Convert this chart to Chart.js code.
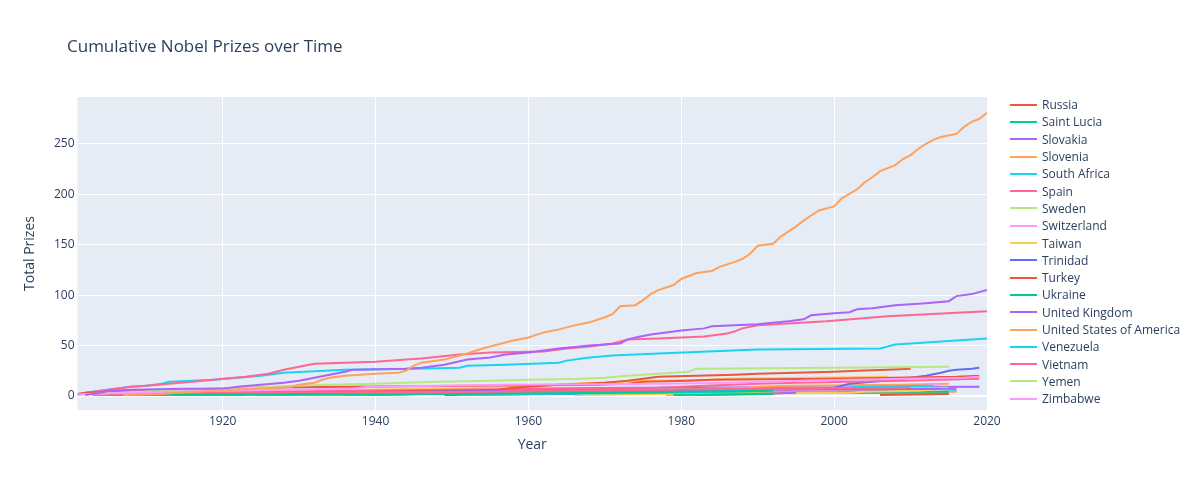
<!DOCTYPE html>
<html>
<head>
<meta charset="utf-8">
<script src="https://cdn.jsdelivr.net/npm/chart.js@4.4.1/dist/chart.umd.min.js"></script>
<style>
  html, body { margin: 0; padding: 0; background: #fff; }
  #wrap { position: relative; width: 1200px; height: 496px; font-family: "Open Sans", sans-serif; color: #2a3f5f; }
  #title { position: absolute; left: 67px; top: 35px; font-size: 17px; line-height: 22px; white-space: nowrap; }
  #legend { position: absolute; left: 1010px; top: 96px; font-size: 12px; }
  .item { height: 17.3px; display: flex; align-items: center; white-space: nowrap; }
  .swatch { width: 27px; height: 2px; margin-right: 5px; }
  canvas { position: absolute; left: 0; top: 0; }
</style>
</head>
<body>
<div id="wrap">
  <canvas id="chart" width="1200" height="496"></canvas>
  <div id="title">Cumulative Nobel Prizes over Time</div>
  <div id="legend"></div>
</div>
<script>
// cumulative totals per country, [year, total]
var usa = [[1907,1],[1912,2],[1914,3],[1919,5],[1921,6],[1927,8],[1929,9],[1930,11],[1932,13],[1933,16],[1934,18],[1936,20],[1938,21],[1940,22],[1943,23],[1944,25],[1945,30],[1946,33],[1949,36],[1950,38],[1952,42],[1954,47],[1956,51],[1958,55],[1960,58],[1962,63],[1964,66],[1966,70],[1968,73],[1970,78],[1971,81],[1972,89],[1974,90],[1975,95],[1976,101],[1977,105],[1979,110],[1980,116],[1981,119],[1982,122],[1984,124],[1985,128],[1987,133],[1988,136],[1989,141],[1990,149],[1992,151],[1993,158],[1994,163],[1995,168],[1996,174],[1997,179],[1998,184],[2000,188],[2001,196],[2003,205],[2004,212],[2005,217],[2006,223],[2008,229],[2009,235],[2010,239],[2011,245],[2012,250],[2013,254],[2014,257],[2016,260],[2017,267],[2018,272],[2019,275],[2020,281]];
var uk = [[1902,1],[1904,3],[1905,5],[1908,6],[1915,7],[1920,7],[1922,9],[1925,11],[1928,13],[1930,15],[1932,18],[1934,21],[1936,24],[1937,26],[1944,27],[1946,28],[1949,31],[1952,36],[1955,38],[1957,41],[1960,43],[1962,45],[1964,47],[1968,50],[1972,52],[1973,56],[1974,58],[1976,61],[1977,62],[1980,65],[1983,67],[1984,69],[1987,70],[1990,71],[1994,74],[1996,76],[1997,80],[2000,82],[2002,83],[2003,86],[2005,87],[2008,90],[2012,92],[2015,94],[2016,99],[2018,101],[2020,105]];
var germany = [[1901,2],[1905,6],[1908,9],[1910,10],[1916,14],[1920,17],[1923,19],[1926,22],[1928,26],[1930,29],[1932,32],[1936,33],[1940,34],[1944,36],[1946,37],[1951,41],[1955,43],[1962,44],[1965,47],[1968,49],[1971,52],[1973,56],[1977,57],[1983,59],[1986,62],[1987,64],[1988,67],[1990,70],[1999,74],[2007,79],[2020,84]];
var france = [[1901,2],[1903,4],[1906,7],[1908,9],[1910,10],[1912,12],[1913,14],[1919,16],[1925,20],[1928,23],[1936,26],[1945,27],[1951,28],[1952,30],[1957,31],[1964,33],[1965,35],[1968,38],[1971,40],[1977,42],[1990,46],[2006,47],[2008,51],[2020,57]];
var japan = [[1949,1],[1965,2],[1968,3],[1973,4],[1981,5],[1987,6],[1994,7],[2000,8],[2001,10],[2002,12],[2008,16],[2010,18],[2012,20],[2014,23],[2015,25],[2016,26],[2018,27],[2019,28]];
var netherlands = [[1901,1],[1902,3],[1910,5],[1913,6],[1924,8],[1936,9],[1953,10],[1969,11],[1973,12],[1975,14],[1981,15],[1984,16],[1999,17],[2016,19],[2019,20]];
var italy = [[1906,2],[1907,3],[1909,4],[1926,5],[1938,6],[1957,8],[1959,10],[1963,11],[1969,13],[1975,15],[1984,16],[1986,17],[1997,18],[2007,19]];
var poland = [[1903,1],[1905,2],[1911,3],[1924,4],[1950,6],[1963,7],[1977,8],[1980,9],[1983,10],[1990,12],[1995,13],[2009,15],[2019,17]];
var canada = [[1923,1],[1949,2],[1957,3],[1966,4],[1971,5],[1981,6],[1983,7],[1989,8],[1990,9],[1994,10],[2009,11],[2015,12]];
var india = [[1907,1],[1913,2],[1930,3],[1968,4],[1979,5],[1983,6],[1998,7],[2001,8],[2009,9],[2014,11]];
var austria = [[1905,1],[1914,2],[1927,3],[1936,5],[1945,6],[1961,7],[1973,8],[2019,9]];
var denmark = [[1903,1],[1908,2],[1920,3],[1926,4],[1943,5],[1975,6],[1997,7],[2015,8]];
var norway = [[1903,1],[1920,2],[1922,3],[1968,4],[1973,5],[1989,6],[2014,7]];
var hungary = [[1905,1],[1914,2],[1937,3],[1961,4],[1971,5],[1986,6],[1994,7],[2002,8],[2004,9]];
var china = [[1957,2],[1998,3],[2000,4],[2009,5],[2010,6],[2012,7],[2015,8]];
var australia = [[1915,1],[1945,2],[1960,3],[1963,4],[1970,5],[1975,6],[1996,7],[2005,8],[2011,9]];
var belgium = [[1909,1],[1911,2],[1913,3],[1919,4],[1958,4],[1974,5],[1977,6],[2013,7]];
var scotland = [[1904,1],[1922,2],[1925,3],[1945,4],[1957,5],[1988,6],[2016,7]];
var israel = [[1966,1],[1978,2],[2002,3],[2004,4],[2011,5],[2013,6]];
var egypt = [[1978,1],[1988,2],[1994,3],[1999,4],[2016,4]];
var czech = [[1914,1],[1947,2],[1984,3],[2014,4],[2016,5]];
var argentina = [[1936,1],[1947,2],[1970,3],[1980,4],[1984,5]];
var ireland = [[1923,1],[1925,2],[1951,3],[1969,4],[1974,5],[1976,6],[1995,7],[1998,8],[2015,8]];
var belarus = [[1921,1],[1945,2],[1978,3],[2015,3]];
var mexico = [[1982,1],[1990,2],[1995,3]];
var finland = [[1939,1],[1945,2],[2000,3],[2008,4],[2015,4]];
var russia = [[1904,1],[1908,2],[1933,3],[1956,6],[1958,8],[1962,10],[1964,11],[1970,13],[1973,15],[1975,17],[1977,19],[1987,21],[1990,22],[2000,24],[2003,25],[2007,26],[2010,27]];
var saintLucia = [[1979,1],[1992,2]];
var slovakia = [[1905,1]];
var slovenia = [[1923,1]];
var southAfrica = [[1951,1],[1960,2],[1979,3],[1984,4],[1991,5],[1993,7],[2002,8],[2003,9],[2013,10]];
var spain = [[1904,1],[1906,2],[1922,3],[1956,4],[1959,5],[1977,6],[1989,7],[2010,8]];
var sweden = [[1901,1],[1903,2],[1909,4],[1911,5],[1915,6],[1920,7],[1924,8],[1929,10],[1934,11],[1940,12],[1948,14],[1955,15],[1960,16],[1967,17],[1970,18],[1973,20],[1977,22],[1981,24],[1982,27],[2000,28],[2015,29]];
var switzerland = [[1901,1],[1902,2],[1909,3],[1913,4],[1920,5],[1937,7],[1939,9],[1948,10],[1957,11],[1978,12],[1986,13],[1991,14],[1996,15],[2002,16],[2017,18],[2019,19]];
var taiwan = [[1986,1]];
var trinidad = [[2001,1]];
var turkey = [[2006,1],[2015,2]];
var ukraine = [[1908,1],[1952,2],[1971,3],[1981,4],[1992,5]];
var venezuela = [[1980,1]];
var vietnam = [[1973,1]];
var yemen = [[2011,1]];
var zimbabwe = [[1960,1]];

var countries = ['Argentina','Australia','Austria','Belarus','Belgium','Canada','China','Czech Republic','Denmark','Egypt','Finland','France','Germany','Hungary','India','Ireland','Israel','Italy','Japan','Mexico','Netherlands','Norway','Poland','Russia','Saint Lucia','Scotland','Slovakia','Slovenia','South Africa','Spain','Sweden','Switzerland','Taiwan','Trinidad','Turkey','Ukraine','United Kingdom','United States of America','Venezuela','Vietnam','Yemen','Zimbabwe'];
var totals = [argentina, australia, austria, belarus, belgium, canada, china, czech, denmark, egypt, finland, france, germany, hungary, india, ireland, israel, italy, japan, mexico, netherlands, norway, poland, russia, saintLucia, scotland, slovakia, slovenia, southAfrica, spain, sweden, switzerland, taiwan, trinidad, turkey, ukraine, uk, usa, venezuela, vietnam, yemen, zimbabwe];
var legendNames = ['Russia','Saint Lucia','Slovakia','Slovenia','South Africa','Spain','Sweden','Switzerland','Taiwan','Trinidad','Turkey','Ukraine','United Kingdom','United States of America','Venezuela','Vietnam','Yemen','Zimbabwe'];

// plotly default colour per country
var lineColors = {
    'Argentina': '#636efa', 'Australia': '#EF553B', 'Austria': '#ab63fa', 'Belarus': '#EF553B',
    'Belgium': '#FFA15A', 'Canada': '#FFA15A', 'China': '#636efa', 'Czech Republic': '#19d3f3',
    'Denmark': '#00cc96', 'Egypt': '#FFA15A', 'Finland': '#00cc96', 'France': '#19d3f3',
    'Germany': '#FF6692', 'Hungary': '#19d3f3', 'India': '#FF97FF', 'Ireland': '#B6E880',
    'Israel': '#FECB52', 'Italy': '#FECB52', 'Japan': '#636efa', 'Mexico': '#ab63fa',
    'Netherlands': '#EF553B', 'Norway': '#FF6692', 'Poland': '#FF6692', 'Russia': '#EF553B',
    'Saint Lucia': '#00cc96', 'Scotland': '#ab63fa', 'Slovakia': '#ab63fa', 'Slovenia': '#FFA15A',
    'South Africa': '#19d3f3', 'Spain': '#FF6692', 'Sweden': '#B6E880', 'Switzerland': '#FF97FF',
    'Taiwan': '#FECB52', 'Trinidad': '#636efa', 'Turkey': '#EF553B', 'Ukraine': '#00cc96',
    'United Kingdom': '#ab63fa', 'United States of America': '#FFA15A', 'Venezuela': '#19d3f3',
    'Vietnam': '#FF6692', 'Yemen': '#B6E880', 'Zimbabwe': '#FF97FF'
};

var textColor = '#2a3f5f';
Chart.defaults.font.family = "'Open Sans', sans-serif";
Chart.defaults.font.size = 12;
Chart.defaults.color = textColor;

// later traces sit on top, chart.js draws dataset 0 last
var datasets = [];
for (var i = countries.length - 1; i >= 0; i--) {
    datasets.push({
        label: countries[i],
        data: totals[i].map(function (p) { return { x: p[0], y: p[1] }; }),
        borderColor: lineColors[countries[i]],
        borderWidth: 2,
        pointRadius: 0,
        tension: 0,
        fill: false
    });
}

var plotBackground = {
    id: 'plotBackground',
    beforeDraw: function (chart) {
        var a = chart.chartArea;
        var c = chart.ctx;
        c.save();
        c.fillStyle = '#E5ECF6';
        c.fillRect(a.left, a.top, a.right - a.left, a.bottom - a.top);
        c.restore();
    }
};

new Chart(document.getElementById('chart'), {
    type: 'line',
    data: { datasets: datasets },
    options: {
        responsive: false,
        animation: false,
        devicePixelRatio: 1,
        layout: { padding: { top: 97, right: 213, bottom: 0, left: 0 } },
        plugins: {
            legend: { display: false },
            tooltip: { enabled: false },
            title: { display: false }
        },
        scales: {
            x: {
                type: 'linear',
                min: 1901,
                max: 2020,
                ticks: {
                    stepSize: 20,
                    includeBounds: false,
                    maxRotation: 0,
                    padding: 4,
                    color: textColor,
                    callback: function (v) { return String(v); }
                },
                grid: { color: '#ffffff', drawTicks: false },
                border: { display: false },
                title: { display: true, text: 'Year', font: { size: 14 }, color: textColor, padding: { top: 0, bottom: 43 } },
                afterFit: function (s) { s.height = 86; }
            },
            y: {
                type: 'linear',
                min: -14,
                max: 296.6,
                ticks: {
                    stepSize: 50,
                    includeBounds: false,
                    padding: 3,
                    color: textColor
                },
                grid: {
                    color: '#ffffff',
                    drawTicks: false,
                    lineWidth: function (c) { return c.tick && c.tick.value === 0 ? 2 : 1; }
                },
                border: { display: false },
                title: { display: true, text: 'Total Prizes', font: { size: 14 }, color: textColor, padding: { top: 22, bottom: 0 } },
                afterFit: function (s) { s.width = 77.5; }
            }
        }
    },
    plugins: [plotBackground]
});

// legend list on the right, like the scrolled plotly legend
var legendBox = document.getElementById('legend');
legendNames.forEach(function (name) {
    var row = document.createElement('div');
    row.className = 'item';
    var sw = document.createElement('span');
    sw.className = 'swatch';
    sw.style.background = lineColors[name];
    var txt = document.createElement('span');
    txt.textContent = name;
    row.appendChild(sw);
    row.appendChild(txt);
    legendBox.appendChild(row);
});
</script>
</body>
</html>
